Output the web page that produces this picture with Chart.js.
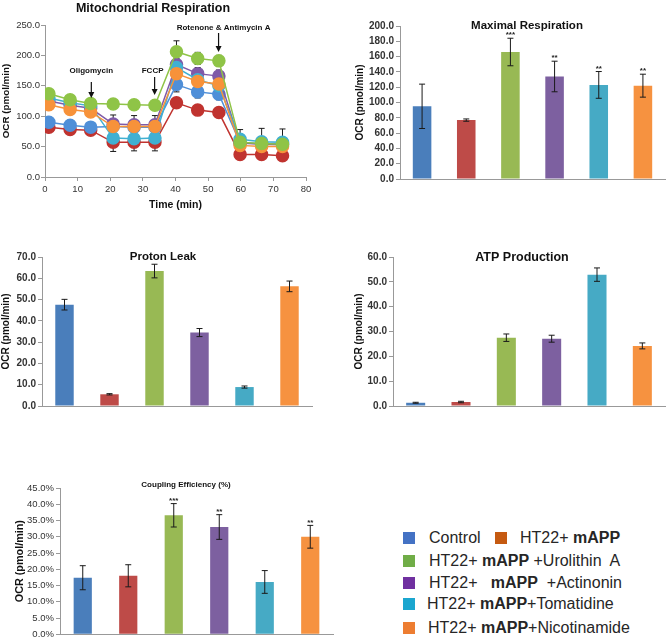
<!DOCTYPE html>
<html>
<head>
<meta charset="utf-8">
<script src="https://cdn.jsdelivr.net/npm/chart.js@4.4.0/dist/chart.umd.min.js"></script>
<style>
  body { margin: 0; background: #fff; }
  #page { position: relative; width: 666px; height: 642px; overflow: hidden; font-family: "Liberation Sans", Arial, sans-serif; }
  canvas { position: absolute; }
  .row { position: absolute; font-size: 16px; color: #262626; white-space: pre; line-height: 18px; }
  .row b { font-weight: bold; }
  .sq { position: absolute; width: 12px; height: 12px; }
</style>
</head>
<body>
<div id="page">
  <canvas id="resp" width="330" height="215" style="left:0;top:0"></canvas>
  <canvas id="maxr" width="326" height="215" style="left:340px;top:0"></canvas>
  <canvas id="leak" width="330" height="210" style="left:0;top:230px"></canvas>
  <canvas id="atp" width="326" height="210" style="left:340px;top:230px"></canvas>
  <canvas id="coup" width="340" height="192" style="left:0;top:450px"></canvas>
  <div id="legend"></div>
</div>
<script>
// groups and colours
const groups = ['Control', 'HT22+ mAPP', 'HT22+ mAPP+Urolithin A', 'HT22+ mAPP+Actinonin', 'HT22+ mAPP+Tomatidine', 'HT22+ mAPP+Nicotinamide'];
const barColors = ['#4a7ebb', '#be4b48', '#98b954', '#7d60a0', '#46aac5', '#f69240'];
const lineColors = ['#4f8fd8', '#c0332f', '#8fc447', '#7f5aa8', '#40b0d2', '#f7923a'];
const legendColors = ['#4472c4', '#c55a11', '#70ad47', '#7030a0', '#1ba6cf', '#ed7d31'];

// Mitochondrial respiration time course
const timeMin = [1.2, 7.7, 14.0, 20.9, 27.3, 33.7, 40.3, 46.8, 53.3, 59.8, 66.4, 72.8];
const ocrControl = [90, 85, 82, 83, 82, 82, 152, 140, 136, 56, 55, 55];
const ocrMapp = [82, 78, 77, 57, 57, 57, 122, 110, 106, 37, 37, 35];
const ocrUrolithin = [137, 127, 121, 120, 119, 118, 206, 195, 191, 57, 55, 54];
const ocrActinonin = [125, 118, 113, 87, 86, 86, 185, 170, 166, 56, 54, 53];
const ocrTomatidine = [130, 122, 117, 64, 63, 64, 180, 160, 150, 62, 58, 57];
const ocrNicotinamide = [119, 111, 107, 83, 83, 83, 170, 157, 153, 52, 50, 50];
const errControl = [0, 0, 0, 0, 0, 0, 12, 10, 9, 0, 0, 0];
const errMapp = [0, 0, 0, 15, 14, 14, 0, 0, 0, 0, 0, 0];
const errUrolithin = [0, 0, 0, 0, 0, 0, 18, 10, 9, 0, 0, 0];
const errActinonin = [0, 0, 0, 15, 15, 15, 10, 10, 10, 0, 0, 0];
const errTomatidine = [0, 0, 0, 0, 0, 0, 0, 0, 0, 16, 22, 22];
const errNicotinamide = [0, 0, 0, 0, 0, 0, 0, 0, 0, 0, 0, 0];
const injections = [
  { t: 14.2, label: 'Oligomycin' },
  { t: 33.6, label: 'FCCP' },
  { t: 53.2, label: 'Rotenone & Antimycin A' }
];

// bar panels
const maxResp = [95, 77, 166, 134, 123, 122];
const maxRespErr = [29, 1.5, 18, 20, 17.5, 15];
const maxRespStars = ['', '', '***', '**', '**', '**'];

const protonLeak = [47.6, 5.5, 63.4, 34.5, 8.9, 56.2];
const protonLeakErr = [2.5, 0.3, 3.2, 1.9, 0.5, 2.5];

const atpProd = [1.3, 1.6, 27.5, 27.1, 52.9, 24.2];
const atpProdErr = [0.2, 0.3, 1.5, 1.4, 2.7, 1.2];

const coupling = [17.4, 18.0, 36.6, 33.0, 16.1, 30.0];
const couplingErr = [3.7, 3.4, 3.6, 3.8, 3.5, 3.5];
const couplingStars = ['', '', '***', '**', '', '**'];

const FONT = '"Liberation Sans", Arial, sans-serif';

// error bars + significance stars
const errorBars = {
  id: 'errorBars',
  draw(chart) {
    const { ctx } = chart;
    const y = chart.scales.y;
    chart.data.datasets.forEach((ds, di) => {
      if (!ds.errors) return;
      const meta = chart.getDatasetMeta(di);
      meta.data.forEach((el, i) => {
        const e = ds.errors[i];
        const d = ds.data[i];
        const v = typeof d === 'object' ? d.y : d;
        const top = y.getPixelForValue(v + e);
        const bot = y.getPixelForValue(v - e);
        ctx.save();
        if (e) {
          ctx.strokeStyle = '#1a1a1a';
          ctx.lineWidth = 1;
          ctx.beginPath();
          ctx.moveTo(el.x, top); ctx.lineTo(el.x, bot);
          ctx.moveTo(el.x - 3, top); ctx.lineTo(el.x + 3, top);
          ctx.moveTo(el.x - 3, bot); ctx.lineTo(el.x + 3, bot);
          ctx.stroke();
        }
        if (ds.stars && ds.stars[i]) {
          ctx.fillStyle = '#222';
          ctx.font = 'bold 8px ' + FONT;
          ctx.textAlign = 'center';
          ctx.textBaseline = 'bottom';
          ctx.fillText(ds.stars[i], el.x, top + 1);
        }
        ctx.restore();
      });
    });
  },
  beforeDatasetsDraw(chart, args, opts) { if (opts.under) this.draw(chart); },
  afterDatasetsDraw(chart, args, opts) { if (!opts.under) this.draw(chart); }
};

// titles drawn at fixed spots
const panelTitle = {
  id: 'panelTitle',
  afterDraw(chart, args, opts) {
    if (!opts.text) return;
    const { ctx } = chart;
    ctx.save();
    ctx.fillStyle = '#111';
    ctx.font = 'bold ' + opts.size + 'px ' + FONT;
    ctx.textAlign = 'center';
    ctx.textBaseline = 'middle';
    ctx.fillText(opts.text, opts.x, opts.y);
    ctx.restore();
  }
};

// injection arrows on the time course
const arrows = {
  id: 'arrows',
  afterDraw(chart, args, opts) {
    if (!opts.items) return;
    const { ctx } = chart;
    const x = chart.scales.x;
    ctx.save();
    opts.items.forEach((a, i) => {
      const px = x.getPixelForValue(a.t);
      const p = opts.pos[i];
      ctx.fillStyle = '#111';
      ctx.strokeStyle = '#111';
      ctx.font = 'bold 8px ' + FONT;
      ctx.textAlign = 'center';
      ctx.textBaseline = 'middle';
      ctx.fillText(a.label, px + p.dx, p.textY);
      ctx.lineWidth = 1.2;
      ctx.beginPath();
      ctx.moveTo(px, p.y0); ctx.lineTo(px, p.y1 - 4);
      ctx.stroke();
      ctx.beginPath();
      ctx.moveTo(px - 3, p.y1 - 6); ctx.lineTo(px + 3, p.y1 - 6); ctx.lineTo(px, p.y1);
      ctx.closePath();
      ctx.fill();
    });
    ctx.restore();
  }
};

Chart.register(errorBars, panelTitle, arrows);

function yAxisTitle(size) {
  return { display: true, text: 'OCR (pmol/min)', color: '#111', font: { family: FONT, size: size, weight: 'bold' }, padding: { top: 0, bottom: 1 } };
}

// time course
const seriesY = [ocrControl, ocrMapp, ocrUrolithin, ocrActinonin, ocrTomatidine, ocrNicotinamide];
const seriesErr = [errControl, errMapp, errUrolithin, errActinonin, errTomatidine, errNicotinamide];
const drawOrder = [4, 5, 0, 3, 2, 1];

new Chart(document.getElementById('resp'), {
  type: 'line',
  data: {
    datasets: seriesY.map((vals, s) => ({
      label: groups[s],
      data: vals.map((v, i) => ({ x: timeMin[i], y: v })),
      errors: seriesErr[s],
      borderColor: lineColors[s],
      backgroundColor: lineColors[s],
      pointBackgroundColor: lineColors[s],
      pointBorderColor: lineColors[s],
      borderWidth: 1.5,
      pointRadius: 6,
      order: drawOrder[s]
    }))
  },
  options: {
    responsive: false,
    animation: false,
    layout: { padding: { left: 0, right: 24, top: 25, bottom: 0 } },
    plugins: {
      legend: { display: false },
      tooltip: { enabled: false },
      errorBars: { under: true },
      panelTitle: { text: 'Mitochondrial Respiration', size: 12.5, x: 153, y: 9 },
      arrows: {
        items: injections,
        pos: [
          { dx: 0, textY: 71, y0: 82, y1: 98 },
          { dx: -2, textY: 71, y0: 77, y1: 95 },
          { dx: 5, textY: 28, y0: 33, y1: 52 }
        ]
      }
    },
    scales: {
      x: {
        type: 'linear', min: 0, max: 80,
        afterFit(s) { s.height = 38; },
        ticks: { stepSize: 10, color: '#333', font: { family: FONT, size: 9.5 }, padding: 3 },
        grid: { drawOnChartArea: false, tickLength: 4, color: '#999' },
        border: { color: '#999' },
        title: { display: true, text: 'Time (min)', color: '#111', font: { family: FONT, size: 10.5, weight: 'bold' }, padding: { top: 4 } }
      },
      y: {
        min: 0, max: 250,
        afterFit(s) { s.width = 45; },
        ticks: { stepSize: 50, color: '#333', font: { family: FONT, size: 9.5 }, padding: 1, callback: v => v.toFixed(1) },
        grid: { drawOnChartArea: false, tickLength: 4, color: '#999' },
        border: { color: '#999' },
        title: yAxisTitle(9.8)
      }
    }
  }
});

// bar panels
function barPanel(id, cfg) {
  new Chart(document.getElementById(id), {
    type: 'bar',
    data: {
      labels: groups,
      datasets: [{
        data: cfg.values,
        errors: cfg.errors,
        stars: cfg.stars,
        backgroundColor: barColors,
        borderWidth: 0,
        categoryPercentage: 1,
        barPercentage: cfg.barPct
      }]
    },
    options: {
      responsive: false,
      animation: false,
      layout: { padding: cfg.padding },
      plugins: {
        legend: { display: false },
        tooltip: { enabled: false },
        errorBars: { under: false },
        panelTitle: cfg.title
      },
      scales: {
        x: {
          afterFit(s) { s.height = 0; },
          ticks: { display: false },
          grid: { display: false },
          border: { color: '#999' }
        },
        y: {
          min: 0, max: cfg.max,
          afterFit(s) { s.width = cfg.yWidth; },
          ticks: {
            stepSize: cfg.step, color: '#333', padding: 2,
            font: { family: FONT, size: cfg.tickSize, weight: cfg.tickWeight },
            callback: cfg.fmt
          },
          grid: { drawOnChartArea: false, tickLength: 4, color: '#999' },
          border: { color: '#999' },
          title: yAxisTitle(cfg.titleSize)
        }
      }
    }
  });
}

barPanel('maxr', {
  values: maxResp, errors: maxRespErr, stars: maxRespStars,
  max: 200, step: 20, fmt: v => v.toFixed(1), tickSize: 10, tickWeight: 'bold', titleSize: 10,
  yWidth: 46, barPct: 0.42,
  padding: { left: 14, right: 1, top: 26, bottom: 36 },
  title: { text: 'Maximal Respiration', size: 11.5, x: 187, y: 26 }
});

barPanel('leak', {
  values: protonLeak, errors: protonLeakErr,
  max: 70, step: 10, fmt: v => v.toFixed(1), tickSize: 10, tickWeight: 'bold', titleSize: 10,
  yWidth: 42, barPct: 0.41,
  padding: { left: 0, right: 18, top: 27, bottom: 34 },
  title: { text: 'Proton Leak', size: 11.5, x: 163, y: 27 }
});

barPanel('atp', {
  values: atpProd, errors: atpProdErr,
  max: 60, step: 10, fmt: v => v.toFixed(1), tickSize: 10, tickWeight: 'bold', titleSize: 10,
  yWidth: 40, barPct: 0.42,
  padding: { left: 13, right: 1, top: 27, bottom: 34 },
  title: { text: 'ATP Production', size: 12.5, x: 182, y: 28 }
});

barPanel('coup', {
  values: coupling, errors: couplingErr, stars: couplingStars,
  max: 45, step: 5, fmt: v => v.toFixed(1) + '%', tickSize: 9.5, tickWeight: 'normal', titleSize: 10.8,
  yWidth: 46, barPct: 0.4,
  padding: { left: 14, right: 7, top: 38, bottom: 5 },
  title: { text: 'Coupling Efficiency (%)', size: 8, x: 186, y: 35 }
});

// legend as real text
const legendRows = [
  { x: 403, y: 532, items: [{ c: 0, tx: 429, html: 'Control' }, { c: 1, sx: 495, tx: 520, html: 'HT22+ <b>mAPP</b>' }] },
  { x: 403, y: 555, items: [{ c: 2, tx: 429, html: 'HT22+ <b>mAPP</b> +Urolithin  A' }] },
  { x: 403, y: 577, items: [{ c: 3, tx: 429, html: 'HT22+   <b>mAPP</b>  +Actinonin' }] },
  { x: 403, y: 598, items: [{ c: 4, tx: 427, html: 'HT22+ <b>mAPP</b>+Tomatidine' }] },
  { x: 403, y: 622, items: [{ c: 5, tx: 428, html: 'HT22+ <b>mAPP</b>+Nicotinamide' }] }
];
const legendEl = document.getElementById('legend');
legendRows.forEach(r => {
  r.items.forEach(it => {
    const sq = document.createElement('div');
    sq.className = 'sq';
    sq.style.left = (it.sx || r.x) + 'px';
    sq.style.top = r.y + 'px';
    sq.style.background = legendColors[it.c];
    legendEl.appendChild(sq);
    const t = document.createElement('div');
    t.className = 'row';
    t.style.left = it.tx + 'px';
    t.style.top = (r.y - 3) + 'px';
    t.innerHTML = it.html;
    legendEl.appendChild(t);
  });
});
</script>
</body>
</html>
